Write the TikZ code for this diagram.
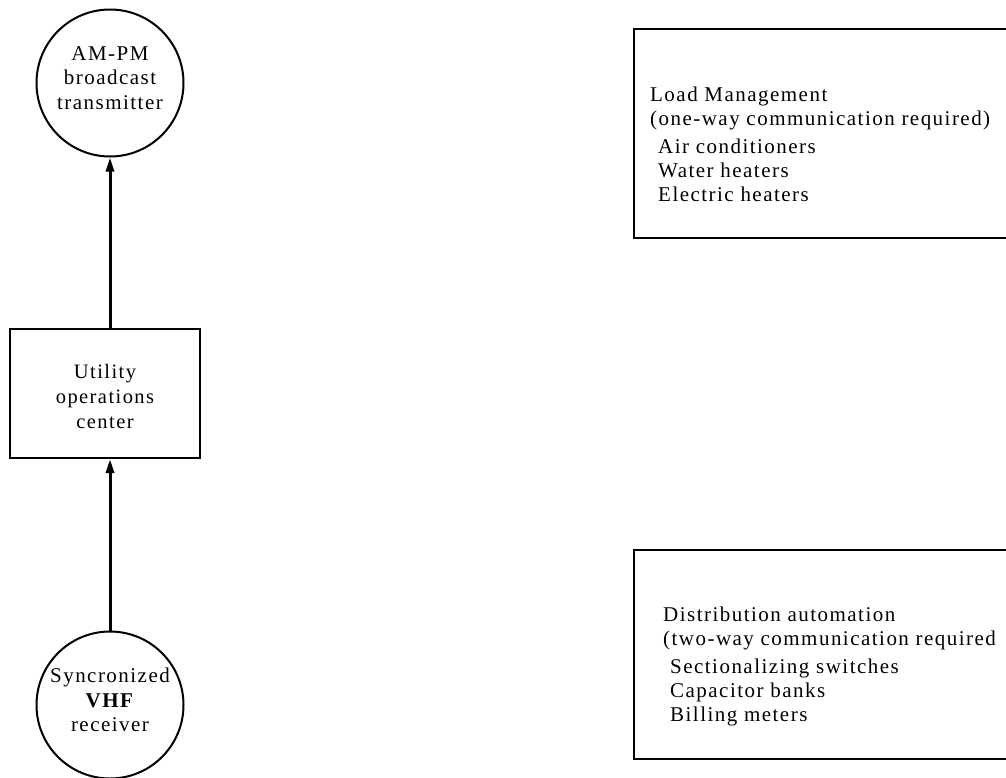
\documentclass[tikz,border=0pt]{standalone}
\usepackage{fontspec}
\setmainfont{Liberation Serif}[LetterSpace=7]
\usetikzlibrary{arrows.meta}
\begin{document}
\begin{tikzpicture}[x=1pt,y=-1pt,
  lbl/.style={font=\fontsize{21}{24.5}\selectfont, align=center, inner sep=0pt},
  opslbl/.style={font=\fontsize{20.5}{25}\selectfont, align=center, inner sep=0pt},
  roundbox/.style={draw, line width=2pt, circle, minimum size=147pt, inner sep=0pt},
  opsbox/.style={draw, line width=2pt, minimum width=190pt, minimum height=129pt, inner sep=0pt},
  listbox/.style={draw, line width=2pt, anchor=north west, minimum width=420pt, minimum height=209pt, inner sep=0pt},
  listtext/.style={font=\fontsize{21}{24}\selectfont, align=left, anchor=north west, inner sep=0pt},
  feed/.style={line width=3pt, -{Triangle[length=14pt,width=8pt]}}]
\useasboundingbox (0,0) rectangle (1006,777);

% left chain: receiver -> operations center -> transmitter
\node[roundbox] (tx) at (110,83) {};
\node[lbl] (txt) at (110,78) {AM-PM\\broadcast\\transmitter};
\node[opsbox] (ops) at (105,393.5) {};
\node[opslbl] (opst) at (105,396) {Utility\\operations\\center};
\node[roundbox] (rx) at (110,705) {};
\node[lbl] (rxt) at (110,700) {Syncronized\\\textbf{VHF}\\receiver};

\draw[feed] (rx.north) -- (ops.south -| rx.north);
\draw[feed] (ops.north -| tx.south) -- (tx.south);

% application boxes, running past the right edge
\node[listbox] (lm) at (633,28) {};
\node[listtext] (lmt) at (650,87) {Load Management\\(one-way communication required)\\[4pt]
  \hspace*{8pt}Air conditioners\\\hspace*{8pt}Water heaters\\\hspace*{8pt}Electric heaters};
\node[listbox] (da) at (633,549) {};
\node[listtext] (dat) at (663,607) {Distribution automation\\(two-way communication required\\[4pt]
  \hspace*{7pt}Sectionalizing switches\\\hspace*{7pt}Capacitor banks\\\hspace*{7pt}Billing meters};
\end{tikzpicture}
\end{document}
